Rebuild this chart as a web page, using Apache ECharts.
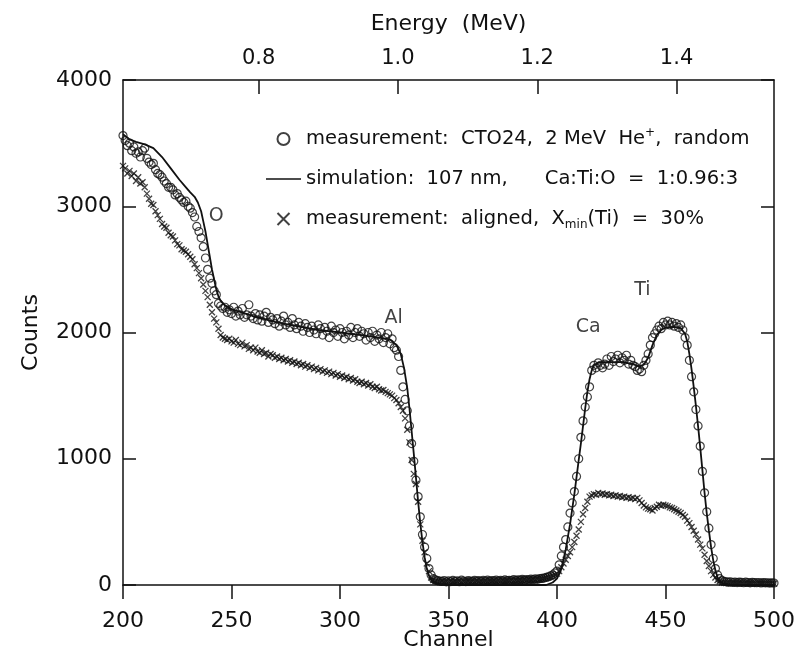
<!DOCTYPE html>
<html>
<head>
<meta charset="utf-8">
<title>RBS spectrum CTO24</title>
<script src="https://cdn.jsdelivr.net/npm/echarts@6.0.0/dist/echarts.min.js"></script>
<style>
  html, body { margin: 0; padding: 0; background: #fff; }
  #chart { width: 798px; height: 664px; }
</style>
</head>
<body>
<div id="chart"></div>
<script>
// channel of the first entry in the measured arrays (one value per channel)
const firstChannel = 200;

// random incidence, one value per channel 200..500
const randomCounts = [
  3560, 3520, 3480, 3500, 3440, 3470, 3420, 3430, 3390, 3440,
  3460, 3380, 3350, 3330, 3340, 3290, 3260, 3250, 3230, 3200,
  3180, 3150, 3150, 3130, 3090, 3100, 3070, 3050, 3030, 3040,
  3000, 2985, 2950, 2915, 2840, 2800, 2750, 2680, 2590, 2500,
  2430, 2390, 2330, 2300, 2230, 2210, 2190, 2200, 2160, 2180,
  2150, 2200, 2130, 2170, 2140, 2190, 2120, 2140, 2220, 2130,
  2110, 2150, 2100, 2140, 2090, 2130, 2160, 2080, 2120, 2100,
  2070, 2110, 2050, 2090, 2130, 2060, 2080, 2040, 2110, 2060,
  2030, 2080, 2050, 2010, 2070, 2040, 2000, 2050, 2020, 1990,
  2060, 2030, 1980, 2040, 2010, 1960, 2050, 2000, 2020, 1970,
  2030, 2000, 1950, 2010, 1980, 2040, 1960, 2000, 2030, 1970,
  2010, 1990, 1940, 2000, 1960, 2010, 1930, 1980, 1950, 2000,
  1920, 1960, 1990, 1910, 1950, 1880, 1860, 1810, 1700, 1570,
  1470, 1380, 1260, 1120, 980, 830, 700, 540, 400, 300,
  210, 130, 80, 50, 40, 35, 30, 28, 35, 25,
  32, 27, 36, 29, 33, 26, 38, 30, 27, 35,
  31, 28, 37, 30, 34, 29, 36, 31, 38, 30,
  35, 32, 39, 31, 36, 33, 40, 34, 37, 35,
  42, 36, 40, 38, 44, 39, 43, 41, 46, 42,
  48, 45, 50, 52, 55, 60, 65, 72, 80, 95,
  110, 160, 230, 300, 360, 460, 570, 650, 740, 860,
  1000, 1170, 1300, 1410, 1490, 1570, 1700, 1740, 1720, 1760,
  1740, 1720, 1750, 1790, 1740, 1810, 1770, 1790, 1820, 1760,
  1800, 1780, 1820, 1750, 1780, 1740, 1730, 1700, 1710, 1690,
  1740, 1780, 1830, 1900, 1960, 1990, 2020, 2050, 2030, 2080,
  2060, 2090, 2060, 2080, 2050, 2070, 2040, 2060, 2020, 1960,
  1900, 1780, 1650, 1530, 1390, 1260, 1100, 900, 730, 580,
  450, 320, 210, 130, 80, 50, 35, 28, 25, 22,
  24, 20, 23, 19, 22, 21, 18, 22, 20, 17,
  21, 19, 18, 20, 16, 19, 17, 18, 15, 17,
  16
];

// aligned (channeling) spectrum, one value per channel 200..500
const alignedCounts = [
  3320, 3300, 3260, 3280, 3240, 3260, 3200, 3230, 3180, 3190,
  3150, 3100, 3060, 3020, 3010, 2960, 2930, 2900, 2860, 2840,
  2830, 2790, 2770, 2760, 2730, 2700, 2690, 2660, 2650, 2640,
  2620, 2600, 2580, 2540, 2510, 2470, 2430, 2380, 2330, 2280,
  2220, 2160, 2110, 2080, 2030, 1980, 1960, 1950, 1940, 1950,
  1930, 1920, 1940, 1910, 1900, 1920, 1890, 1900, 1870, 1880,
  1860, 1880, 1850, 1840, 1860, 1830, 1840, 1810, 1830, 1820,
  1800, 1810, 1790, 1800, 1780, 1790, 1770, 1780, 1760, 1770,
  1750, 1760, 1740, 1750, 1730, 1740, 1720, 1730, 1710, 1720,
  1700, 1710, 1690, 1700, 1680, 1690, 1670, 1680, 1660, 1670,
  1650, 1660, 1640, 1650, 1630, 1640, 1620, 1630, 1610, 1600,
  1610, 1590, 1600, 1580, 1590, 1570, 1560, 1570, 1550, 1540,
  1545, 1530, 1520, 1510, 1500, 1480, 1465, 1440, 1410, 1380,
  1320, 1230, 1130, 990, 880, 800, 660, 480, 350, 260,
  170, 110, 60, 40, 32, 28, 24, 30, 22, 27,
  25, 30, 23, 28, 26, 31, 24, 29, 27, 32,
  26, 30, 28, 33, 27, 31, 29, 34, 28, 32,
  30, 35, 29, 33, 31, 36, 30, 34, 32, 37,
  33, 38, 35, 40, 36, 41, 38, 43, 40, 45,
  42, 47, 45, 50, 53, 57, 62, 68, 75, 82,
  90, 110, 140, 170, 200, 230, 260, 300, 340, 390,
  440, 500, 560, 610, 660, 700, 710, 720, 715, 730,
  720, 725, 715, 720, 710, 715, 705, 710, 700, 705,
  695, 700, 690, 695, 685, 690, 680, 690, 670, 650,
  630, 615, 605, 600, 590, 610, 620, 635, 630, 635,
  630, 625, 615, 610, 600, 590, 580, 570, 555, 540,
  510, 490, 460, 430, 400, 360, 320, 290, 240, 190,
  150, 110, 80, 60, 40, 30, 20, 18, 15, 17,
  14, 16, 15, 13, 16, 14, 12, 15, 13, 14,
  12, 13, 11, 14, 12, 13, 11, 12, 10, 12,
  11
];

// simulated spectrum (107 nm, Ca:Ti:O = 1:0.96:3)
const simChannels = [
  200, 203, 206, 210, 214, 218, 222, 226, 229, 231, 233, 234.5, 236, 237, 238, 239,
  240, 241, 242, 243, 244, 245, 247, 250, 260, 270, 280, 290, 300, 310, 318, 323,
  326, 328, 329.5, 331, 332, 333, 334, 335, 336, 337, 338, 339, 340, 341, 342, 344,
  346, 350, 395, 398, 400, 402, 404, 406, 408, 410, 411, 412, 413, 414, 415, 416,
  417, 419, 422, 430, 435, 438, 440, 442, 444, 446, 448, 450, 454, 457, 459, 460,
  461, 462, 463, 464, 465, 466, 467, 468, 469, 470, 471, 472, 473, 474, 475, 477,
  480, 500
];
const simCounts = [
  3570, 3530, 3510, 3490, 3460, 3390, 3300, 3210, 3150, 3110, 3075, 3030, 2960, 2880, 2800, 2700,
  2600, 2500, 2420, 2340, 2285, 2250, 2215, 2185, 2130, 2085, 2050, 2020, 2000, 1980, 1960, 1945,
  1900, 1830, 1720, 1560, 1400, 1220, 1040, 850, 660, 490, 340, 220, 130, 75, 40, 15,
  5, 0, 0, 20, 50, 130, 280, 480, 720, 990, 1120, 1260, 1400, 1530, 1630, 1700,
  1740, 1760, 1765, 1765, 1750, 1730, 1745, 1800, 1900, 1980, 2020, 2040, 2045, 2035, 1990, 1930,
  1830, 1710, 1570, 1420, 1260, 1090, 910, 730, 570, 430, 300, 195, 115, 60, 30, 10,
  3, 0
];

// peak annotations
const peakNames = ['O', 'Al', 'Ca', 'Ti'];
const peakChannels = [243, 324.7, 414.4, 439.3];
const peakCounts = [2919, 2111, 2044, 2337];

// top axis: energy calibration, channel = chOffset + E * chPerMeV
const energyTicks = [0.8, 1.0, 1.2, 1.4];
const chOffset = 5.7;
const chPerMeV = 321;

const legendTexts = {
  random: '{t|measurement:  CTO24,  2 MeV  He}{sup|+}{t|,  random}',
  simulation: '{t|simulation:  107 nm,      Ca:Ti:O  =  1:0.96:3}',
  aligned: '{t|measurement:  aligned,  X}{sub|min}{t|(Ti)  =  30%}'
};

const FONT = 'DejaVu Sans';
const INK = '#111';

const toPairs = counts => counts.map((v, i) => [firstChannel + i, v]);
const energyChannels = energyTicks.map(e => chOffset + e * chPerMeV);
const crossPath = 'path://M0,0L10,10M10,0L0,10';
const dashIcon = 'path://M0,0L70,0L70,3.4L0,3.4Z';

const chart = echarts.init(document.getElementById('chart'), null, { renderer: 'canvas' });

const option = {
  animation: false,
  backgroundColor: '#fff',
  grid: { left: 123, right: 23, top: 80, bottom: 79 },
  legend: {
    data: [
      { name: 'random' },
      { name: 'simulation', icon: dashIcon, itemStyle: { color: INK } },
      { name: 'aligned' }
    ],
    orient: 'vertical',
    left: 261,
    top: 122,
    itemWidth: 35,
    itemHeight: 12,
    itemGap: 20,
    selectedMode: false,
    formatter: name => legendTexts[name],
    textStyle: {
      color: INK,
      fontFamily: FONT,
      fontSize: 19.5,
      rich: {
        t: { fontFamily: FONT, fontSize: 19.5, color: INK, lineHeight: 24 },
        sup: { fontFamily: FONT, fontSize: 12, color: INK, lineHeight: 24, verticalAlign: 'top' },
        sub: { fontFamily: FONT, fontSize: 12, color: INK, lineHeight: 24, verticalAlign: 'bottom' }
      }
    }
  },
  xAxis: [
    {
      type: 'value',
      min: 200,
      max: 500,
      interval: 50,
      name: 'Channel',
      nameLocation: 'middle',
      nameGap: 44,
      nameMoveOverlap: false,
      nameTextStyle: { fontFamily: FONT, fontSize: 22, color: INK },
      axisLine: { show: true, onZero: false, lineStyle: { color: INK, width: 1.5 } },
      axisTick: { show: true, inside: false, length: 14, lineStyle: { color: INK, width: 1.5 } },
      axisLabel: { margin: 25, fontFamily: FONT, fontSize: 22, color: INK },
      splitLine: { show: false }
    },
    {
      type: 'value',
      position: 'top',
      min: 200,
      max: 500,
      name: 'Energy  (MeV)',
      nameLocation: 'middle',
      nameGap: 45,
      nameMoveOverlap: false,
      nameTextStyle: { fontFamily: FONT, fontSize: 22, color: INK },
      axisLine: { show: true, onZero: false, lineStyle: { color: INK, width: 1.5 } },
      axisTick: { show: true, inside: true, length: 14, customValues: energyChannels, lineStyle: { color: INK, width: 1.5 } },
      axisLabel: {
        margin: 11,
        fontFamily: FONT,
        fontSize: 21,
        color: INK,
        customValues: energyChannels,
        formatter: v => ((v - chOffset) / chPerMeV).toFixed(1)
      },
      splitLine: { show: false }
    }
  ],
  yAxis: [
    {
      type: 'value',
      min: 0,
      max: 4000,
      interval: 1000,
      name: 'Counts',
      nameLocation: 'middle',
      nameGap: 81,
      nameMoveOverlap: false,
      nameRotate: 90,
      nameTextStyle: { fontFamily: FONT, fontSize: 22, color: INK },
      axisLine: { show: true, onZero: false, lineStyle: { color: INK, width: 1.5 } },
      axisTick: { show: true, inside: true, length: 13, lineStyle: { color: INK, width: 1.5 } },
      axisLabel: { margin: 11, fontFamily: FONT, fontSize: 22, color: INK, formatter: v => String(v) },
      splitLine: { show: false }
    },
    {
      type: 'value',
      position: 'right',
      min: 0,
      max: 4000,
      interval: 1000,
      axisLine: { show: true, onZero: false, lineStyle: { color: INK, width: 1.5 } },
      axisTick: { show: true, inside: true, length: 13, lineStyle: { color: INK, width: 1.5 } },
      axisLabel: { show: false },
      splitLine: { show: false }
    }
  ],
  series: [
    {
      name: 'random',
      type: 'scatter',
      data: toPairs(randomCounts),
      symbol: 'circle',
      symbolSize: 8,
      itemStyle: { color: 'rgba(255,255,255,0)', borderColor: INK, borderWidth: 1.2 },
      z: 3
    },
    {
      name: 'simulation',
      type: 'line',
      data: simChannels.map((c, i) => [c, simCounts[i]]),
      symbol: 'none',
      smooth: false,
      lineStyle: { color: INK, width: 1.8 },
      itemStyle: { color: INK },
      z: 4
    },
    {
      name: 'aligned',
      type: 'scatter',
      data: toPairs(alignedCounts),
      symbol: crossPath,
      symbolSize: 6,
      itemStyle: { color: 'rgba(255,255,255,0)', borderColor: INK, borderWidth: 1.3 },
      z: 3
    },
    {
      name: 'peaks',
      type: 'scatter',
      data: peakNames.map((n, i) => ({ name: n, value: [peakChannels[i], peakCounts[i]] })),
      symbolSize: 0,
      silent: true,
      label: {
        show: true,
        position: 'inside',
        formatter: p => p.name,
        fontFamily: FONT,
        fontSize: 19,
        color: INK
      },
      z: 5
    }
  ]
};

chart.setOption(option);
window.addEventListener('resize', () => chart.resize());
</script>
</body>
</html>
